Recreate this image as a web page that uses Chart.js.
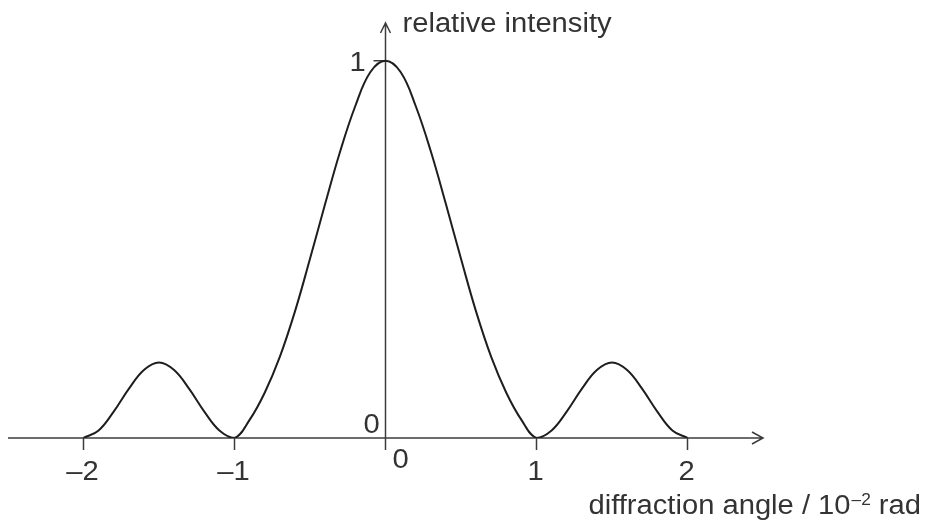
<!DOCTYPE html>
<html>
<head>
<meta charset="utf-8">
<script src="https://cdn.jsdelivr.net/npm/chart.js@4.4.1/dist/chart.umd.min.js"></script>
<style>
  html, body { margin: 0; padding: 0; background: #fff; }
  #wrap { width: 928px; height: 525px; }
</style>
</head>
<body>
<div id="wrap"><canvas id="diffChart"></canvas></div>
<script>
// diffraction angle (10^-2 rad) and relative intensity
const angles = [
  -2.0, -1.9, -1.8, -1.7, -1.6, -1.5, -1.4, -1.3, -1.2, -1.1,
  -1.0, -0.9, -0.8, -0.7, -0.6, -0.5, -0.4, -0.3, -0.2, -0.1,
   0.0,
   0.1,  0.2,  0.3,  0.4,  0.5,  0.6,  0.7,  0.8,  0.9,  1.0,
   1.1,  1.2,  1.3,  1.4,  1.5,  1.6,  1.7,  1.8,  1.9,  2.0
];
const intensity = [
  0.00, 0.02, 0.07, 0.13, 0.18, 0.20, 0.18, 0.13, 0.07, 0.02,
  0.00, 0.048, 0.12, 0.215, 0.335, 0.475, 0.62, 0.76, 0.88, 0.97,
  1.00,
  0.97, 0.88, 0.76, 0.62, 0.475, 0.335, 0.215, 0.12, 0.048, 0.00,
  0.02, 0.07, 0.13, 0.18, 0.20, 0.18, 0.13, 0.07, 0.02, 0.00
];

const xTickValues = [-2, -1, 0, 1, 2];
const xTickLabels = ["–2", "–1", "0", "1", "2"];
const yTickValues = [0, 1];
const yTickLabels = ["0", "1"];

const yTitle = "relative intensity";
const xTitleMain = "diffraction angle / 10";
const xTitleSup = "–2";
const xTitleEnd = " rad";

const axisColor = "#3c3c3c";
const textColor = "#333333";
const curveColor = "#1e1e1e";
const FONT = "27px 'Liberation Sans', Arial, sans-serif";
const SUP_FONT = "16px 'Liberation Sans', Arial, sans-serif";
const STRETCH = 1.08; // text in the figure is a bit wide

function stretchedText(ctx, str, x, y, align) {
    const w = ctx.measureText(str).width * STRETCH;
    let left = x;
    if (align === "center") left = x - w / 2;
    if (align === "right") left = x - w;
    ctx.save();
    ctx.translate(left, y);
    ctx.scale(STRETCH, 1);
    ctx.textAlign = "left";
    ctx.fillText(str, 0, 0);
    ctx.restore();
    return w;
}

const axesPlugin = {
    id: "axesPlugin",
    beforeDatasetsDraw(chart) {
        const ctx = chart.ctx;
        const xs = chart.scales.x, ys = chart.scales.y;
        const x0 = xs.getPixelForValue(0);
        const y0 = ys.getPixelForValue(0);

        ctx.save();
        ctx.strokeStyle = axisColor;
        ctx.lineWidth = 1.5;
        ctx.beginPath();
        // horizontal axis + arrow
        ctx.moveTo(xs.left, y0);
        ctx.lineTo(xs.right, y0);
        ctx.moveTo(xs.right - 11, y0 - 6);
        ctx.lineTo(xs.right, y0);
        ctx.lineTo(xs.right - 11, y0 + 6);
        // vertical axis + arrow
        ctx.moveTo(x0, y0);
        ctx.lineTo(x0, ys.top);
        ctx.moveTo(x0 - 5, ys.top + 10);
        ctx.lineTo(x0, ys.top);
        ctx.lineTo(x0 + 5, ys.top + 10);
        // x ticks
        xTickValues.forEach(v => {
            const px = xs.getPixelForValue(v);
            ctx.moveTo(px, y0);
            ctx.lineTo(px, y0 + 12);
        });
        // y tick at 1
        const y1 = ys.getPixelForValue(1);
        ctx.moveTo(x0 - 12, y1);
        ctx.lineTo(x0, y1);
        ctx.stroke();
        ctx.restore();
    },
    afterDraw(chart) {
        const ctx = chart.ctx;
        const xs = chart.scales.x, ys = chart.scales.y;
        const x0 = xs.getPixelForValue(0);
        const y0 = ys.getPixelForValue(0);

        ctx.save();
        ctx.fillStyle = textColor;
        ctx.font = FONT;
        ctx.textBaseline = "alphabetic";

        xTickValues.forEach((v, i) => {
            const px = xs.getPixelForValue(v);
            if (v === 0) {
                stretchedText(ctx, xTickLabels[i], px + 15, y0 + 30, "center");
            } else {
                stretchedText(ctx, xTickLabels[i], px - 1, y0 + 42, "center");
            }
        });

        yTickValues.forEach((v, i) => {
            const py = ys.getPixelForValue(v);
            if (v === 0) {
                stretchedText(ctx, yTickLabels[i], x0 - 14, py - 5, "center");
            } else {
                stretchedText(ctx, yTickLabels[i], x0 - 28, py + 10, "center");
            }
        });

        // axis titles
        stretchedText(ctx, yTitle, x0 + 17, ys.top + 9, "left");

        const wMain = ctx.measureText(xTitleMain).width * STRETCH;
        const wEnd = ctx.measureText(xTitleEnd).width * STRETCH;
        ctx.font = SUP_FONT;
        const wSup = ctx.measureText(xTitleSup).width * STRETCH;
        const right = 920;
        const base = y0 + 76;
        let left = right - wMain - wSup - wEnd;
        ctx.font = FONT;
        left += stretchedText(ctx, xTitleMain, left, base, "left");
        ctx.font = SUP_FONT;
        left += stretchedText(ctx, xTitleSup, left + 1, base - 9, "left") + 1;
        ctx.font = FONT;
        stretchedText(ctx, xTitleEnd, left, base, "left");
        ctx.restore();
    }
};

const ctx = document.getElementById("diffChart").getContext("2d");
const diffChart = new Chart(ctx, {
    type: "line",
    data: {
        datasets: [{
            data: angles.map((a, i) => ({ x: a, y: intensity[i] })),
            borderColor: curveColor,
            borderWidth: 2,
            pointRadius: 0,
            fill: false,
            tension: 0.4
        }]
    },
    options: {
        responsive: true,
        maintainAspectRatio: false,
        animation: false,
        layout: {
            padding: { left: 8, right: 165, top: 23, bottom: 87 }
        },
        plugins: {
            legend: { display: false },
            tooltip: { enabled: false }
        },
        scales: {
            x: { type: "linear", min: -2.5, max: 2.5, display: false },
            y: { type: "linear", min: 0, max: 1.1, display: false }
        }
    },
    plugins: [axesPlugin]
});
</script>
</body>
</html>
